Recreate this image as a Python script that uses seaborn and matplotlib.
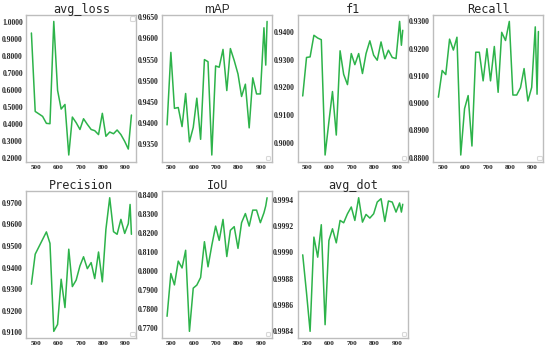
import numpy as np
import pandas as pd
import matplotlib
matplotlib.use("Agg")
import matplotlib.pyplot as plt
import matplotlib.ticker as mticker
import seaborn as sns

# checkpoints (epoch) and metrics
epochs = [480, 497, 513, 530, 547, 563, 580, 597, 613, 630, 647, 663, 680, 697,
          713, 730, 747, 763, 780, 797, 813, 830, 847, 863, 880, 897, 913, 921, 927]

avg_loss = [0.937, 0.476, 0.462, 0.447, 0.406, 0.404, 1.005, 0.600, 0.490, 0.517,
            0.220, 0.443, 0.410, 0.370, 0.433, 0.400, 0.370, 0.363, 0.340, 0.465,
            0.330, 0.355, 0.345, 0.367, 0.340, 0.300, 0.255, 0.370, 0.455]

map_vals = [0.9396, 0.9567, 0.9435, 0.9437, 0.9392, 0.9470, 0.9356, 0.9390, 0.9459,
            0.9362, 0.9550, 0.9545, 0.9325, 0.9535, 0.9532, 0.9574, 0.9477, 0.9576,
            0.9548, 0.9516, 0.9463, 0.9492, 0.9389, 0.9507, 0.9469, 0.9469, 0.9625,
            0.9537, 0.9640]

f1 = [0.9169, 0.9308, 0.9310, 0.9388, 0.9378, 0.9372, 0.8956, 0.9076, 0.9185,
      0.9028, 0.9332, 0.9247, 0.9210, 0.9322, 0.9282, 0.9322, 0.9250, 0.9322,
      0.9368, 0.9316, 0.9298, 0.9364, 0.9303, 0.9334, 0.9308, 0.9304, 0.9438,
      0.9352, 0.9406]

recall = [0.9022, 0.9120, 0.9105, 0.9235, 0.9195, 0.9242, 0.8810, 0.8980, 0.9028,
          0.8843, 0.9187, 0.9187, 0.9082, 0.9200, 0.9082, 0.9208, 0.9040, 0.9260,
          0.9230, 0.9300, 0.9030, 0.9030, 0.9057, 0.9127, 0.9008, 0.9058, 0.9280,
          0.9033, 0.9263]

precision = [0.9323, 0.9462, 0.9495, 0.9530, 0.9565, 0.9512, 0.9105, 0.9137, 0.9346,
             0.9215, 0.9485, 0.9312, 0.9342, 0.9408, 0.9450, 0.9395, 0.9423, 0.9349,
             0.9472, 0.9334, 0.9577, 0.9723, 0.9566, 0.9554, 0.9623, 0.9558, 0.9603,
             0.9692, 0.9554]

iou = [0.7760, 0.7985, 0.7925, 0.8050, 0.8014, 0.8107, 0.7681, 0.7908, 0.7924,
       0.7964, 0.8152, 0.8020, 0.8133, 0.8234, 0.8159, 0.8269, 0.8074, 0.8212,
       0.8231, 0.8117, 0.8252, 0.8300, 0.8234, 0.8318, 0.8318, 0.8252, 0.8304,
       0.8340, 0.8383]

avg_dot = [0.998982, 0.998690, 0.998395, 0.999118, 0.998964, 0.999213, 0.998446,
           0.999092, 0.999182, 0.999074, 0.999246, 0.999228, 0.999297, 0.999349,
           0.999246, 0.999420, 0.999233, 0.999292, 0.999264, 0.999297, 0.999387,
           0.999413, 0.999238, 0.999395, 0.999387, 0.999310, 0.999380, 0.999310,
           0.999370]

titles = ["avg_loss", "mAP", "f1", "Recall", "Precision", "IoU", "avg_dot"]
series = [avg_loss, map_vals, f1, recall, precision, iou, avg_dot]
y_steps = [0.1, 0.005, 0.01, 0.01, 0.01, 0.01, 0.0002]
legend_locs = ["upper right"] + ["lower right"] * 6

sns.set_theme(style="white")
plt.rcParams["axes.edgecolor"] = "#bdbdbd"
plt.rcParams["axes.linewidth"] = 1.0

fig, axes = plt.subplots(2, 4, figsize=(5.5, 3.51), dpi=100)
fig.subplots_adjust(left=0.048, right=0.988, top=0.958, bottom=0.037,
                    wspace=0.233, hspace=0.20)

for ax, title, vals, step, loc in zip(axes.flat, titles, series, y_steps, legend_locs):
    df = pd.DataFrame({"epoch": epochs, "value": vals})
    sns.lineplot(data=df, x="epoch", y="value", ax=ax, color="#2db34a", linewidth=1.1)
    title_font = ["Liberation Sans"] if title == "mAP" else ["DejaVu Sans Mono"]
    ax.set_title(title, fontsize=8.5, pad=1.5, family=title_font)
    ax.set_xlabel("")
    ax.set_ylabel("")
    ax.yaxis.set_major_locator(mticker.MultipleLocator(step))
    ax.yaxis.set_major_formatter(mticker.FormatStrFormatter("%.4f"))
    ax.set_xticks([500, 600, 700, 800, 900])
    for lab in ax.get_xticklabels():
        lab.set_family("Liberation Serif")
        lab.set_fontweight("bold")
        lab.set_fontsize(5.2)
    for lab in ax.get_yticklabels():
        lab.set_family("Liberation Serif")
        lab.set_fontweight("bold")
        lab.set_fontsize(5.5)
    ax.tick_params(axis="both", length=1.5, pad=1)
    # empty legend boxes, as in the original figure
    leg = ax.legend(handles=[], loc=loc, frameon=True, borderpad=0.4,
                    fontsize=4, borderaxespad=0.3, fancybox=True)
    leg.get_frame().set_edgecolor("#cfcfcf")
    leg.get_frame().set_linewidth(0.8)

axes.flat[-1].axis("off")

fig.savefig("out.png", dpi=100)
